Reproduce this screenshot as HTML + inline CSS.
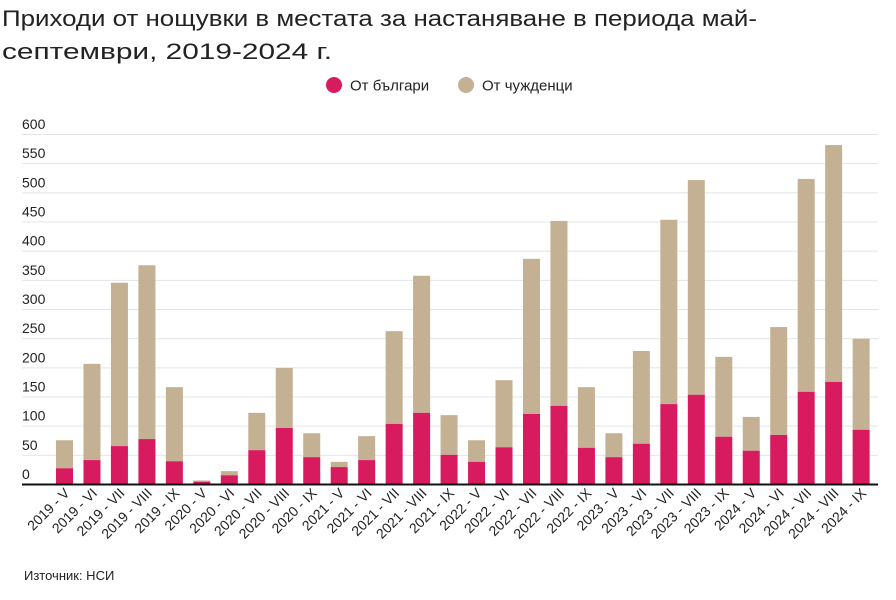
<!DOCTYPE html>
<html><head><meta charset="utf-8"><style>
body{margin:0;background:#fff;width:896px;height:600px;overflow:hidden}
svg{display:block;font-family:"Liberation Sans","DejaVu Sans",sans-serif}
</style></head><body>
<svg width="896" height="600" viewBox="0 0 896 600" xmlns="http://www.w3.org/2000/svg">
<text x="2" y="26" font-size="22.5" fill="#222" textLength="755" lengthAdjust="spacingAndGlyphs">Приходи от нощувки в местата за настаняване в периода май-</text>
<text x="2" y="59" font-size="22.5" fill="#222" textLength="330" lengthAdjust="spacingAndGlyphs">септември, 2019-2024 г.</text>
<circle cx="334" cy="85" r="8" fill="#d81b5e"/>
<text x="350" y="90.5" font-size="15" fill="#222">От българи</text>
<circle cx="466" cy="85" r="8" fill="#c4b092"/>
<text x="482" y="90.5" font-size="15" fill="#222">От чужденци</text>
<g id="grid" stroke="#e4e4e4" stroke-width="1"></g>
<g id="ylab" font-size="14" fill="#222"></g>
<g id="bars"></g>
<line x1="22" y1="484.5" x2="878" y2="484.5" stroke="#111" stroke-width="2"/>
<g id="xlab" font-size="14" fill="#222"></g>
<text x="24" y="580" font-size="13" fill="#222">Източник: НСИ</text>
</svg>
<script>
var ns="http://www.w3.org/2000/svg";
function el(t,a,p,txt){var e=document.createElementNS(ns,t);for(var k in a)e.setAttribute(k,a[k]);if(txt)e.textContent=txt;document.getElementById(p).appendChild(e);}
var base=484,s=350/600;
for(var v=0;v<=600;v+=50){var y=base-v*s;if(v>0)el('line',{x1:22,x2:878,y1:y+0.5,y2:y+0.5},'grid');el('text',{x:22,y:y-5},'ylab',String(v));}
var d=[[75,27],[206,41],[345,65],[375,77],[166,39],[6,4],[22,15],[122,58],[199,96],[87,46],[38,29],[82,41],[262,103],[357,122],[118,50],[75,38],[178,63],[386,120],[451,134],[166,62],[87,46],[228,69],[453,137],[521,153],[218,81],[115,57],[269,84],[523,158],[581,175],[249,93]];
var m=['V','VI','VII','VIII','IX'];
d.forEach(function(b,i){var cx=64.5+i*27.47,x=cx-8.5;
el('rect',{x:x,y:base-b[0]*s,width:17,height:(b[0]-b[1])*s,fill:'#c4b092'},'bars');
el('rect',{x:x,y:base-b[1]*s,width:17,height:b[1]*s,fill:'#d81b5e'},'bars');
var yr=2019+Math.floor(i/5);var lab=yr+' - '+m[i%5];
el('text',{x:cx+6,y:494,'text-anchor':'end',transform:'rotate(-45 '+(cx+6)+' 494)'},'xlab',lab);
});
</script>
</body></html>
